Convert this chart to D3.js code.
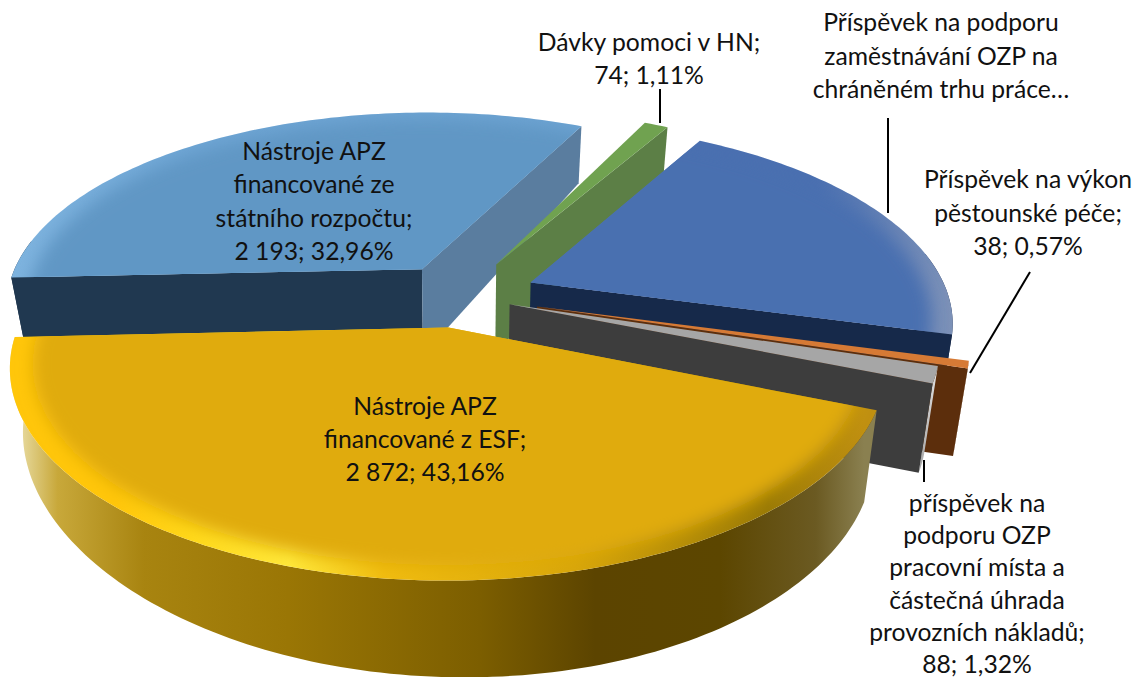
<!DOCTYPE html>
<html lang="en">
<head>
<meta charset="UTF-8">
<title>Pie</title>
<style>
    html,body{margin:0;padding:0;background:#fff;overflow:hidden}
    text{font-family:Lato,sans-serif;font-size:24.7px;fill:#111;text-anchor:middle}
</style>
<script src="https://cdnjs.cloudflare.com/ajax/libs/d3/7.8.5/d3.min.js"></script>
</head>
<body>
<svg id="chart"></svg>
<script>
    var categories=["Nástroje APZ financované z ESF","Nástroje APZ financované ze státního rozpočtu","Dávky pomoci v HN",
        "Příspěvek na podporu zaměstnávání OZP na chráněném trhu práce","Příspěvek na výkon pěstounské péče",
        "příspěvek na podporu OZP pracovní místa a částečná úhrada provozních nákladů"];
    var values=[2872,2193,74,1389,38,88];
    var labelLines=[
        ["Nástroje APZ","financované z ESF;","2 872; 43,16%"],
        ["Nástroje APZ","financované ze","státního rozpočtu;","2 193; 32,96%"],
        ["Dávky pomoci v HN;","74; 1,11%"],
        ["Příspěvek na podporu","zaměstnávání OZP na","chráněném trhu práce…"],
        ["Příspěvek na výkon","pěstounské péče;","38; 0,57%"],
        ["příspěvek na","podporu OZP","pracovní místa a","částečná úhrada","provozních nákladů;","88; 1,32%"]
    ];

    var width=1134,height=677;
    var svg=d3.select("#chart").attr("width",width).attr("height",height);
    var defs=svg.append("defs");

    // perspektiva
    var cx=460,cy=296,k=0.182;
    var explodes=[0.16,0.17,0.19,0.185,0.19,0.125];
    var xScale=d3.scaleLinear().domain([-1,1]).range([cx-418,cx+418]);
    var yScale=d3.scaleLinear().domain([-1,1]).range([cy-194,cy+194]);
    // vyska steny se v obrazku meni podle polohy
    function wallHeight(u,v){
        return 88+8*v-12*u*u+12*u+(v<0?-27*v*v:7*v*v);
    }
    function project(u,v,z){
        var w=1-k*v+0.028*z;
        return [xScale(u/w),yScale(v/w)+z*wallHeight(u,v)];
    }

    var pie=d3.pie().sort(null).startAngle(112*Math.PI/180).endAngle(472*Math.PI/180);
    var slices=pie(values);
    var line=d3.line();

    function offset(d){
        var mid=(d.startAngle+d.endAngle)/2;
        return [explodes[d.index]*Math.sin(mid),-explodes[d.index]*Math.cos(mid)];
    }
    function arcPoints(d,a0,a1,z,r){
        var o=offset(d),n=Math.max(2,Math.ceil((a1-a0)*50));
        return d3.range(n+1).map(function(i){
            var a=a0+(a1-a0)*i/n;
            return project(o[0]+r*Math.sin(a),o[1]-r*Math.cos(a),z);
        });
    }
    function topFace(d){
        var o=offset(d);
        return line([project(o[0],o[1],0)].concat(arcPoints(d,d.startAngle,d.endAngle,0,1)))+"Z";
    }
    function cutWall(d,a){
        var o=offset(d);
        var e=[o[0]+Math.sin(a),o[1]-Math.cos(a)];
        return line([project(o[0],o[1],0),project(e[0],e[1],0),project(e[0],e[1],1),project(o[0],o[1],1)])+"Z";
    }
    function outerWall(d,a0,a1){
        return line(arcPoints(d,a0,a1,0,1).concat(arcPoints(d,a0,a1,1,1).reverse()))+"Z";
    }
    function gradient(id,stops){
        var g=defs.append("linearGradient").attr("id",id).attr("gradientUnits","userSpaceOnUse")
            .attr("x1",0).attr("x2",960).attr("y1",0).attr("y2",0);
        stops.forEach(function(s){
            g.append("stop").attr("offset",s[0]).attr("stop-color",s[1]);
        });
    }
    defs.append("filter").attr("id","soft").attr("x","-10%").attr("y","-10%").attr("width","120%").attr("height","120%")
        .append("feGaussianBlur").attr("stdDeviation",8);

    gradient("wallEsf",[[0.02,"#e8dba0"],[0.06,"#c8a83a"],[0.15,"#a88410"],[0.3,"#9a7605"],[0.5,"#7c5e00"],[0.62,"#5c4400"],[0.75,"#5c4600"],[0.85,"#6b5a22"],[0.9,"#8a8050"]]);
    gradient("rimEsf",[[0,"#ffc60a"],[0.12,"#ffc60a"],[0.2,"#ffd81a"],[0.3,"#ffe83a"],[0.4,"#f0bc10"],[0.6,"#d8a60a"],[0.8,"#9a7a05"],[0.9,"#c09010"]]);
    gradient("rimSr",[[0,"#7fb4df"],[0.2,"#6ea5d4"],[1,"#6aa0cf"]]);
    gradient("wallGray",[[0,"#8a8a8a"],[0.96,"#aaaaaa"],[0.975,"#e0e0e0"],[1,"#c8c8c8"]]);
    gradient("rimBlue",[[0,"#4a6fb0"],[0.85,"#4a6fb0"],[1,"#7f93b8"]]);

    var looks=[
        {top:"#e0ab0f",rim:"url(#rimEsf)",wall:"url(#wallEsf)",cuts:[]},
        {top:"#6097c5",rim:"url(#rimSr)",wall:"#203a52",cuts:[["start","#203850"],["end","#5a7d9f"]]},
        {top:"#70a250",rim:"#70a250",wall:"#5c7f46",cuts:[["end","#5c7f46"]]},
        {top:"#4a6fb0",rim:"url(#rimBlue)",wall:"#16294a",cuts:[["end","#16294a"]]},
        {top:"#d67a35",rim:"#d67a35",wall:"#5c2e0c",cuts:[["end","#5c2e0c"]]},
        {top:"#a6a6a6",rim:"#a6a6a6",wall:"url(#wallGray)",cuts:[["end","#3d3d3d"]]}
    ];

    // poradi kresleni zezadu dopredu
    var order=[1,2,3,4,5,0];
    var pieG=svg.append("g");
    order.forEach(function(i){
        var d=slices[i],look=looks[i],g=pieG.append("g");
        var a0=d.startAngle,a1=d.endAngle;
        // jen predni cast vnejsi steny
        var wrap=Math.floor(a0/(2*Math.PI))*2*Math.PI;
        var from=Math.max(a0,wrap+Math.PI*0.45),to=Math.min(a1,wrap+Math.PI*1.55);
        if(to>from) g.append("path").attr("d",outerWall(d,from,to)).attr("fill",look.wall);
        look.cuts.forEach(function(c){
            g.append("path").attr("d",cutWall(d,c[0]=="start"?d.startAngle:d.endAngle)).attr("fill",c[1]);
        });
        defs.append("clipPath").attr("id","clip"+i).append("path").attr("d",topFace(d));
        g.append("path").attr("d",topFace(d)).attr("fill",look.rim);
        var inner=d3.range(73).map(function(j){
            var a=j*5*Math.PI/180,o=offset(d);
            return project(o[0]+0.95*Math.sin(a),o[1]-0.95*Math.cos(a),0);
        });
        if(look.rim!=look.top){
            g.append("g").attr("clip-path","url(#clip"+i+")")
                .append("path").attr("d",line(inner)+"Z").attr("fill",look.top).attr("filter","url(#soft)");
        }
    });

    // vodici cary
    var leaders=[[[660,89],[660,123]],[[888,118],[888,213]],[[1030,272],[970,373]],[[924,460],[924,482]]];
    leaders.forEach(function(l){
        svg.append("path").attr("d",line(l)).attr("stroke","#000").attr("stroke-width",2).attr("fill","none");
    });

    // popisky
    var labelPos=[[425,407],[314,152],[649,43],[941,23],[1028,180],[977,504]];
    var lineSteps=[33,33.4,32.5,33.5,33.5,32.2];
    labelLines.forEach(function(lines,i){
        var t=svg.append("text").attr("transform","translate("+labelPos[i][0]+","+labelPos[i][1]+")");
        lines.forEach(function(s,j){
            t.append("tspan").attr("x",0).attr("y",j*lineSteps[i]+8).text(s);
        });
    });
</script>
</body>
</html>
